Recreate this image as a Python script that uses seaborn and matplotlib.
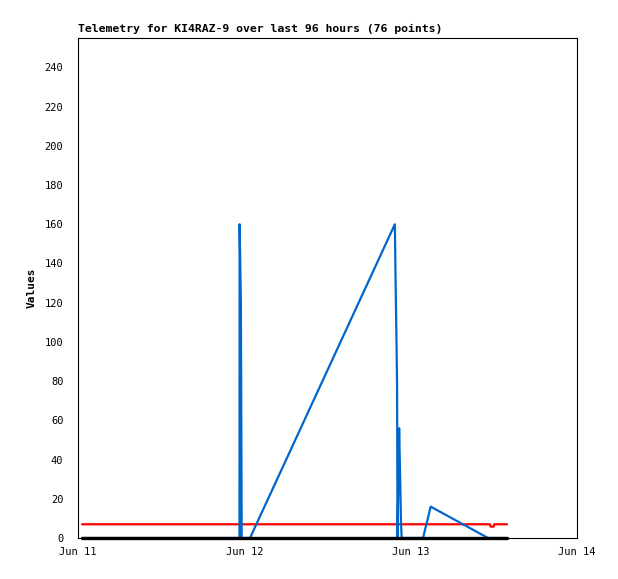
import pandas as pd
import matplotlib
matplotlib.use("Agg")
import matplotlib.pyplot as plt
import matplotlib.dates as mdates
import seaborn as sns

# telemetry channels (times in UTC, values as plotted)
blue_times = [
    "2024-06-11 00:35", "2024-06-11 23:18", "2024-06-11 23:19", "2024-06-11 23:30",
    "2024-06-11 23:35", "2024-06-11 23:37", "2024-06-12 00:49", "2024-06-12 21:43",
    "2024-06-12 21:50", "2024-06-12 21:57", "2024-06-12 22:02", "2024-06-12 22:06",
    "2024-06-12 22:20", "2024-06-12 22:28", "2024-06-12 22:36", "2024-06-12 22:42",
    "2024-06-13 01:47", "2024-06-13 02:53", "2024-06-13 11:10", "2024-06-13 13:54",
]
blue_values = [0, 0, 160, 120, 40, 0, 0, 160, 128, 101, 79, 0, 56, 33, 8, 0, 0, 16, 0, 0]

red_times = ["2024-06-11 00:35", "2024-06-13 11:27", "2024-06-13 11:32",
             "2024-06-13 11:58", "2024-06-13 12:03", "2024-06-13 13:54"]
red_values = [7, 7, 5.8, 5.8, 7, 7]

black_times = ["2024-06-11 00:35", "2024-06-13 13:54"]
black_values = [0, 0]

y_ticks = list(range(0, 260, 20))
x_start, x_end = "2024-06-11", "2024-06-14"


def make_frame(times, values, name):
    return pd.DataFrame({"time": pd.to_datetime(times), "value": values, "series": name})


def plot_telemetry(data):
    fig = plt.figure(figsize=(6.18, 5.79), dpi=100)
    ax = fig.add_axes([0.1262, 0.0708, 0.8075, 0.8636])

    # draw order: red under blue, black zero line on top
    for name, color, lw in [("red", "#ff0000", 1.6), ("blue", "#0066cc", 1.6), ("black", "#000000", 2.4)]:
        sub = data[data["series"] == name]
        sns.lineplot(data=sub, x="time", y="value", color=color, linewidth=lw,
                     sort=False, estimator=None, ax=ax, clip_on=False)

    ax.set_xlim(pd.Timestamp(x_start), pd.Timestamp(x_end))
    ax.set_ylim(0, 255)
    ax.set_yticks(y_ticks)
    ax.xaxis.set_major_locator(mdates.DayLocator())
    ax.xaxis.set_major_formatter(mdates.DateFormatter("%b %d"))

    ax.tick_params(direction="out", length=4.5, width=0.8, labelsize=7.5, colors="black",
                   top=False, right=False)
    ax.tick_params(axis="x", pad=2)
    ax.tick_params(axis="y", pad=6)
    for spine in ax.spines.values():
        spine.set_visible(True)
        spine.set_color("black")
        spine.set_linewidth(0.8)

    ax.set_xlabel("")
    ax.set_ylabel("Values", fontsize=8, fontweight="bold", labelpad=6, color="black")
    ax.set_title("Telemetry for KI4RAZ-9 over last 96 hours (76 points)",
                 loc="left", fontsize=8.25, fontweight="bold", pad=4, color="black")
    ax.grid(False)

    fig.savefig("out.png", dpi=100)


def main():
    sns.set_theme(style="white")
    plt.rcParams["font.family"] = ["DejaVu Sans Mono", "DejaVu Sans"]

    data = pd.concat([
        make_frame(blue_times, blue_values, "blue"),
        make_frame(red_times, red_values, "red"),
        make_frame(black_times, black_values, "black"),
    ], ignore_index=True)

    plot_telemetry(data)


if __name__ == "__main__":
    main()
